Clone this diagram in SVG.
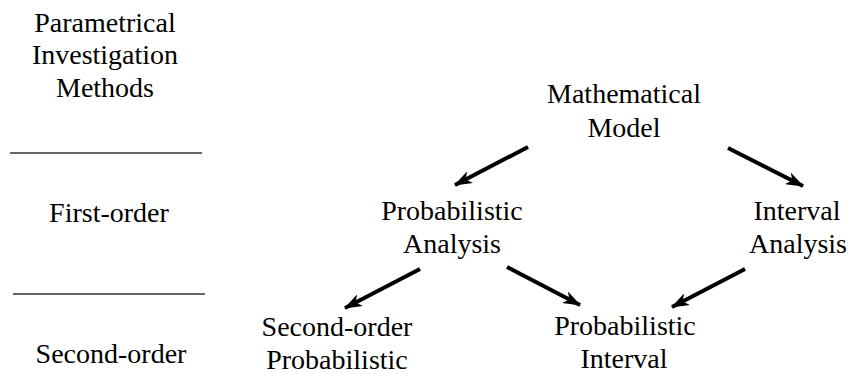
<svg xmlns="http://www.w3.org/2000/svg" width="853" height="374" viewBox="0 0 853 374">
<defs>
<style>
text{font-family:"Liberation Serif","Times New Roman",Tinos,serif;font-size:28px;fill:#000;text-anchor:middle}
.sep{stroke:#333;stroke-width:1.6}
.arr{stroke:#000;stroke-width:4;fill:none;marker-end:url(#ah)}
</style>
<marker id="ah" viewBox="0 0 18 13" refX="17" refY="6.5" markerWidth="18" markerHeight="13" orient="auto" markerUnits="userSpaceOnUse">
<path d="M0,0 L18,6.5 L0,13 L5,6.5 z" fill="#000"/>
</marker>
</defs>
<rect width="853" height="374" fill="#fff"/>
<g id="header">
<text x="105" y="32">Parametrical</text>
<text x="105" y="64">Investigation</text>
<text x="105" y="97">Methods</text>
</g>
<g id="level1"><text x="109" y="222">First-order</text></g>
<g id="level2"><text x="111" y="363">Second-order</text></g>
<g id="mathematical-model">
<text x="624" y="103">Mathematical</text>
<text x="624" y="137">Model</text>
</g>
<g id="probabilistic-analysis">
<text x="452" y="220">Probabilistic</text>
<text x="452" y="253">Analysis</text>
</g>
<g id="interval-analysis">
<text x="797" y="220">Interval</text>
<text x="798" y="253">Analysis</text>
</g>
<g id="second-order-probabilistic">
<text x="337" y="336">Second-order</text>
<text x="337" y="369">Probabilistic</text>
</g>
<g id="probabilistic-interval">
<text x="625" y="335">Probabilistic</text>
<text x="624" y="368">Interval</text>
</g>
<g id="separators">
<line class="sep" x1="10" y1="153" x2="202" y2="153"/>
<line class="sep" x1="13" y1="294" x2="205" y2="294"/>
</g>
<g id="connectors">
<line class="arr" x1="528" y1="147" x2="455" y2="185"/>
<line class="arr" x1="728" y1="148" x2="803" y2="186"/>
<line class="arr" x1="420" y1="269" x2="345" y2="308"/>
<line class="arr" x1="507" y1="267" x2="580" y2="305"/>
<line class="arr" x1="745" y1="269" x2="672" y2="307"/>
</g>
</svg>
